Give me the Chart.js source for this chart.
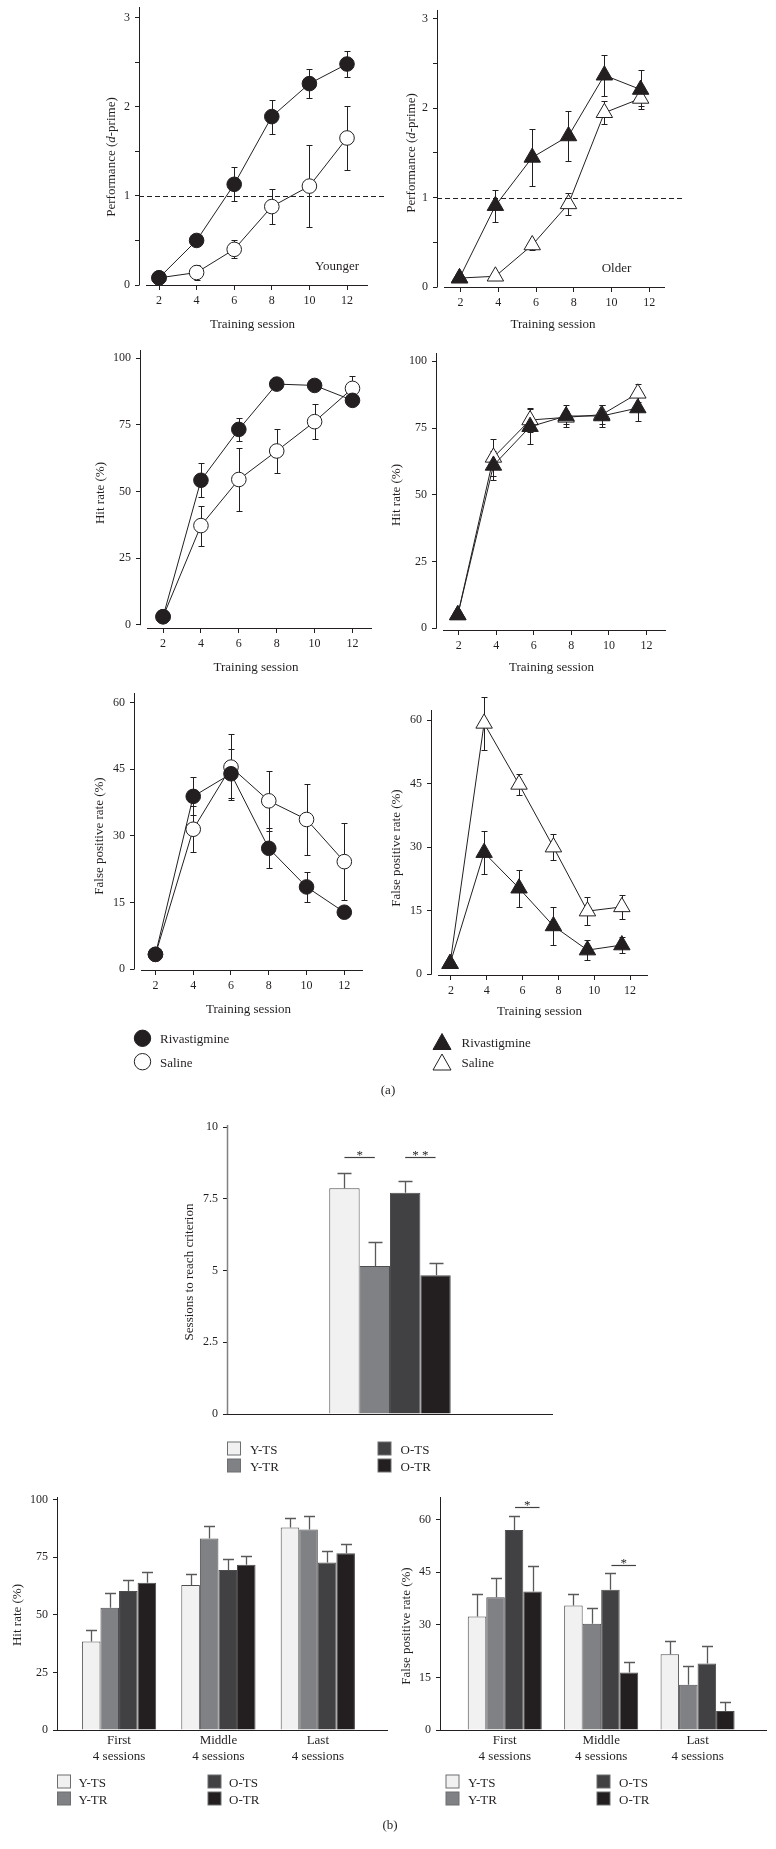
<!DOCTYPE html>
<html><head><meta charset="utf-8">
<script src="https://cdn.jsdelivr.net/npm/chart.js@4.4.1/dist/chart.umd.min.js"></script>
<style>
html,body{margin:0;padding:0;background:#fff;}
#page{position:relative;width:776px;height:1849px;overflow:hidden;background:#fff;font-family:'Liberation Serif','DejaVu Serif','Times New Roman',serif;color:#231f20;}
canvas{position:absolute;}
svg{position:absolute;left:0;top:0;}
.t{position:absolute;white-space:nowrap;font-size:13px;line-height:1;}
</style></head><body><div id="page"></div>
<script>
// ---------------- DATA ----------------
const sessions = [2, 4, 6, 8, 10, 12];
const olderSessions = [1.95, 3.85, 5.8, 7.72, 9.62, 11.54];
const sessionTicks = [2, 4, 6, 8, 10, 12];

// d-prime
const dYoungRiv = [0.08, 0.50, 1.13, 1.89, 2.26, 2.48];
const dYoungRivSem = [0, 0.03, 0.19, 0.19, 0.16, 0.15];
const dYoungSal = [0.08, 0.14, 0.40, 0.88, 1.11, 1.65];
const dYoungSalSem = [0, 0.08, 0.10, 0.20, 0.46, 0.36];
const dOldRiv = [0.10, 0.91, 1.45, 1.69, 2.37, 2.21];
const dOldRivSem = [0, 0.18, 0.32, 0.28, 0.23, 0.22];
const dOldSal = [0.10, 0.12, 0.47, 0.93, 1.95, 2.11];
const dOldSalSem = [0, 0.03, 0.06, 0.12, 0.13, 0.08];
const criterion = 1;

// hit rate (%)
const hitYoungRiv = [3, 54.2, 73.3, 90.3, 89.8, 84.2];
const hitYoungRivSem = [0, 6.4, 4.3, 0, 0, 0];
const hitYoungSal = [3, 37.2, 54.5, 65.2, 76.2, 88.7];
const hitYoungSalSem = [0, 7.5, 11.8, 8.1, 6.6, 4.7];
const hitOldRiv = [5, 61, 75.5, 79.5, 79.5, 82.5];
const hitOldRivSem = [0, 5.5, 6.5, 4.3, 4, 5];
const hitOldSal = [5, 64, 78, 79, 80, 88];
const hitOldSalSem = [0, 7, 4.4, 2.5, 3.5, 3.4];

// false positive rate (%)
const fpYoungRiv = [3.3, 38.9, 44.0, 27.2, 18.5, 12.8];
const fpYoungRivSem = [0, 4.3, 5.5, 4.5, 3.3, 0];
const fpYoungSal = [3.3, 31.5, 45.5, 37.9, 33.7, 24.2];
const fpYoungSalSem = [0, 5.2, 7.5, 6.8, 8.1, 8.6];
const fpOldRiv = [2.5, 28.7, 20.3, 11.4, 5.7, 6.9];
const fpOldRivSem = [0, 5, 4.4, 4.5, 2.4, 1.8];
const fpOldSal = [2.5, 59.2, 44.8, 30.0, 14.9, 15.9];
const fpOldSalSem = [0, 6.3, 2.4, 3.0, 3.3, 2.9];

// (b) groups
const groups = ['Y-TS', 'Y-TR', 'O-TS', 'O-TR'];
const sessionsToCriterion = [7.87, 5.16, 7.72, 4.84];
const sessionsToCriterionSem = [0.55, 0.85, 0.42, 0.42];

const blocks = [['First', '4 sessions'], ['Middle', '4 sessions'], ['Last', '4 sessions']];
const blockIndex = [1, 2, 3];
const hitYTS = [38.4, 62.9, 87.9], hitYTSSem = [5.2, 4.9, 4.2];
const hitYTR = [53.0, 83.1, 87.0], hitYTRSem = [6.5, 5.6, 5.9];
const hitOTS = [60.3, 69.4, 72.7], hitOTSSem = [5.0, 4.6, 4.8];
const hitOTR = [63.9, 71.7, 76.7], hitOTRSem = [4.5, 3.9, 4.2];
const fpYTS = [32.4, 35.5, 21.6], fpYTSSem = [6.5, 3.3, 3.9];
const fpYTR = [37.9, 30.3, 12.9], fpYTRSem = [5.5, 4.4, 5.3];
const fpOTS = [57.1, 40.0, 19.0], fpOTSSem = [4.1, 4.8, 5.1];
const fpOTR = [39.5, 16.4, 5.4], fpOTRSem = [7.2, 2.9, 2.7];

const dTicksY = [0, 1, 2, 3];
const hitTicksY = [0, 25, 50, 75, 100];
const fpTicksY = [0, 15, 30, 45, 60];
const sessTicksY = [0, 2.5, 5, 7.5, 10];

// ---------------- STYLE ----------------
const SERIF = "'Liberation Serif','DejaVu Serif','Times New Roman',serif";
const INK = '#231f20';
const barColors = ['#f1f1f2', '#808184', '#414042', '#231f20'];
const barBorder = '#4d4d4f';
const errGrey = '#58595b';
Chart.defaults.font.family = SERIF;
Chart.defaults.color = INK;

const page = document.getElementById('page');
const PADL = 70, PADT = 20, PADR = 30, PADB = 50;

// ---------------- PLUGINS ----------------
function drawErrors(chart, o) {
  if (!o || !o.sems) return;
  const ctx = chart.ctx, ys = chart.scales.y;
  ctx.save();
  ctx.strokeStyle = o.color || INK;
  ctx.lineWidth = o.width || 1;
  o.sems.forEach((sem, di) => {
    if (!sem) return;
    const meta = chart.getDatasetMeta(di);
    const data = chart.data.datasets[di].data;
    meta.data.forEach((el, i) => {
      const s = sem[i];
      if (!s) return;
      const v = (typeof data[i] === 'object') ? data[i].y : data[i];
      const x = Math.round(el.x) + 0.5;
      const yTop = Math.round(ys.getPixelForValue(v + s)) + 0.5;
      const yBot = o.upOnly ? ys.getPixelForValue(v) : Math.round(ys.getPixelForValue(v - s)) + 0.5;
      const c = (o.cap || 6) / 2;
      ctx.beginPath();
      ctx.moveTo(x, yBot); ctx.lineTo(x, yTop);
      ctx.moveTo(x - c, yTop); ctx.lineTo(x + c, yTop);
      if (!o.upOnly) { ctx.moveTo(x - c, yBot); ctx.lineTo(x + c, yBot); }
      ctx.stroke();
    });
  });
  ctx.restore();
}
const errorBars = {
  id: 'errorBars',
  beforeDatasetsDraw(chart, args, o) { if (o && o.layer === 'before') drawErrors(chart, o); },
  afterDatasetsDraw(chart, args, o) { if (o && o.layer === 'after') drawErrors(chart, o); }
};
const axisLines = {
  id: 'axisLines',
  afterDraw(chart, args, o) {
    if (!o || !o.on) return;
    const {ctx, chartArea: a, scales} = chart;
    ctx.save();
    ctx.lineWidth = o.yWidth || 1;
    ctx.strokeStyle = o.yColor || INK;
    const yb = scales.y.getPixelForValue(o.yEnd || 0);
    const xl = Math.round(a.left) + 0.5;
    ctx.beginPath(); ctx.moveTo(xl, a.top); ctx.lineTo(xl, yb + 0.5); ctx.stroke();
    ctx.lineWidth = 1;
    ctx.strokeStyle = o.xColor || INK;
    const yl = Math.round(a.bottom) + 0.5;
    ctx.beginPath(); ctx.moveTo(a.left + (o.xGap || 0), yl); ctx.lineTo(a.right, yl); ctx.stroke();
    ctx.restore();
  }
};
const refLine = {
  id: 'refLine',
  afterDatasetsDraw(chart, args, o) {
    if (!o || o.value === undefined) return;
    const {ctx, chartArea: a, scales} = chart;
    const y = Math.round(scales.y.getPixelForValue(o.value)) + 0.5;
    ctx.save();
    ctx.strokeStyle = INK; ctx.lineWidth = 1; ctx.setLineDash([5, 3]);
    ctx.beginPath(); ctx.moveTo(a.left, y); ctx.lineTo(a.right + (o.extend || 0), y); ctx.stroke();
    ctx.restore();
  }
};
const sigMarks = {
  id: 'sigMarks',
  afterDraw(chart, args, o) {
    if (!o || !o.items) return;
    const ctx = chart.ctx, ys = chart.scales.y;
    ctx.save();
    ctx.strokeStyle = '#414042'; ctx.fillStyle = INK; ctx.lineWidth = 1.2;
    ctx.font = '13px ' + SERIF; ctx.textAlign = 'center'; ctx.textBaseline = 'alphabetic';
    o.items.forEach(it => {
      const ea = chart.getDatasetMeta(it.a).data[it.i];
      const eb = chart.getDatasetMeta(it.b).data[it.i];
      const x1 = ea.x + (it.offA || 0), x2 = eb.x + (it.offB || 0);
      const y = Math.round(ys.getPixelForValue(it.y)) + 0.5;
      ctx.beginPath(); ctx.moveTo(x1, y); ctx.lineTo(x2, y); ctx.stroke();
      ctx.fillText(it.text, (x1 + x2) / 2, y + 1);
    });
    ctx.restore();
  }
};
Chart.register(errorBars, axisLines, refLine, sigMarks);

// ---------------- HELPERS ----------------
function makeCanvas(g) {
  const L = Math.round(g.L), T = Math.round(g.T), R = Math.round(g.R), B = Math.round(g.B);
  const c = document.createElement('canvas');
  const w = R - L + PADL + PADR, h = B - T + PADT + PADB;
  c.width = w; c.height = h;
  c.style.left = (L - PADL) + 'px'; c.style.top = (T - PADT) + 'px';
  c.style.width = w + 'px'; c.style.height = h + 'px';
  page.appendChild(c);
  return c;
}
function yScale(min, max, step, labels) {
  return {
    type: 'linear', min, max,
    afterFit: s => { s.width = PADL; },
    border: {display: false},
    grid: {drawOnChartArea: false, drawTicks: true, tickLength: 4, color: INK, lineWidth: 1},
    ticks: {stepSize: step, includeBounds: false, padding: 5, autoSkip: false,
      font: {size: 12}, color: INK,
      callback: v => (labels.indexOf(v) >= 0 ? String(v) : '')}
  };
}
function baseOpts(scales, plugins) {
  return {
    responsive: false, animation: false, devicePixelRatio: 1, events: [],
    layout: {padding: {left: 0, top: PADT, right: PADR, bottom: 0}},
    plugins: Object.assign({legend: {display: false}, tooltip: {enabled: false}}, plugins),
    scales
  };
}
function lineDs(xs, ys, shape, filled) {
  return {
    data: xs.map((x, i) => ({x, y: ys[i]})),
    borderColor: INK, borderWidth: 1, tension: 0, fill: false, clip: false,
    pointStyle: shape, pointRadius: shape === 'triangle' ? 9.5 : 7.3,
    pointBackgroundColor: filled ? INK : '#ffffff', pointBorderColor: INK, pointBorderWidth: 1
  };
}
function lineChart(g, xs, riv, rivSem, sal, salSem, shape, yCfg, ref) {
  const plugins = {
    errorBars: {layer: 'before', sems: [rivSem, salSem], cap: 6, width: 1, color: INK},
    axisLines: {on: true, xGap: 7, yEnd: 0}
  };
  if (ref !== undefined) plugins.refLine = {value: ref, extend: 19};
  new Chart(makeCanvas(g), {
    type: 'line',
    data: {datasets: [lineDs(xs, riv, shape, true), lineDs(xs, sal, shape, false)]},
    options: baseOpts({
      x: {type: 'linear', min: g.xmin, max: g.xmax, offset: false,
        afterFit: s => { s.height = PADB; },
        border: {display: false},
        grid: {drawOnChartArea: false, drawTicks: true, tickLength: 5, color: INK, offset: false},
        ticks: {stepSize: 2, includeBounds: false, padding: 4, autoSkip: false, maxRotation: 0,
          font: {size: 12}, color: INK,
          callback: v => (sessionTicks.indexOf(v) >= 0 ? String(v) : '')}},
      y: yScale(yCfg[0], yCfg[1], yCfg[2], yCfg[3])
    }, plugins)
  });
}
function blockBarChart(g, vals, sems, yCfg, sig) {
  const datasets = groups.map((name, k) => ({
    label: name,
    data: blockIndex.map((x, i) => ({x, y: vals[k][i]})),
    backgroundColor: barColors[k], borderColor: barBorder, borderWidth: 1,
    categoryPercentage: g.cat, barPercentage: 1
  }));
  const plugins = {
    errorBars: {layer: 'after', sems, cap: 11, width: 1.3, color: errGrey, upOnly: true},
    axisLines: {on: true, xGap: 0, yEnd: 0}
  };
  if (sig) plugins.sigMarks = {items: sig};
  new Chart(makeCanvas(g), {
    type: 'bar',
    data: {datasets},
    options: baseOpts({
      x: {type: 'linear', min: g.xmin, max: g.xmax, offset: false,
        afterFit: s => { s.height = PADB; },
        border: {display: false},
        grid: {display: false, drawTicks: false, offset: false},
        ticks: {stepSize: 1, includeBounds: false, padding: 3, autoSkip: false, maxRotation: 0,
          font: {size: 13}, color: INK,
          callback: v => (blockIndex.indexOf(v) >= 0 ? blocks[v - 1] : '')}},
      y: yScale(yCfg[0], yCfg[1], yCfg[2], yCfg[3])
    }, plugins)
  });
}

// ---------------- CHARTS (a) ----------------
lineChart({L: 139, T: 7, R: 368, B: 285, xmin: 0.936, xmax: 13.117},
  sessions, dYoungRiv, dYoungRivSem, dYoungSal, dYoungSalSem, 'circle', [0, 3.12, 0.5, dTicksY], criterion);
lineChart({L: 437, T: 10, R: 665, B: 287, xmin: 0.757, xmax: 12.83},
  olderSessions, dOldRiv, dOldRivSem, dOldSal, dOldSalSem, 'triangle', [0, 3.1, 0.5, dTicksY], criterion);
lineChart({L: 140, T: 350, R: 372, B: 628, xmin: 0.783, xmax: 13.03},
  sessions, hitYoungRiv, hitYoungRivSem, hitYoungSal, hitYoungSalSem, 'circle', [-1.24, 103.1, 25, hitTicksY]);
lineChart({L: 436, T: 353, R: 666, B: 630, xmin: 0.79, xmax: 13.04},
  olderSessions, hitOldRiv, hitOldRivSem, hitOldSal, hitOldSalSem, 'triangle', [-0.64, 103.1, 25, hitTicksY]);
lineChart({L: 134, T: 693, R: 363, B: 970, xmin: 0.864, xmax: 12.99},
  sessions, fpYoungRiv, fpYoungRivSem, fpYoungSal, fpYoungSalSem, 'circle', [-0.22, 62.2, 15, fpTicksY]);
lineChart({L: 431, T: 710, R: 648, B: 975, xmin: 0.885, xmax: 13.0},
  olderSessions, fpOldRiv, fpOldRivSem, fpOldSal, fpOldSalSem, 'triangle', [-0.17, 62.36, 15, fpTicksY]);

// ---------------- CHARTS (b) ----------------
new Chart(makeCanvas({L: 227, T: 1125, R: 553, B: 1414}), {
  type: 'bar',
  data: {labels: [''], datasets: groups.map((name, k) => ({
    label: name, data: [sessionsToCriterion[k]],
    backgroundColor: barColors[k], borderColor: barBorder, borderWidth: 1,
    categoryPercentage: 0.3726, barPercentage: 1
  }))},
  options: baseOpts({
    x: {type: 'category', afterFit: s => { s.height = PADB; }, border: {display: false},
      grid: {display: false, drawTicks: false}, ticks: {display: false}},
    y: yScale(0, 10.08, 2.5, sessTicksY)
  }, {
    errorBars: {layer: 'after', sems: sessionsToCriterionSem.map(v => [v]), cap: 14, width: 1.3, color: errGrey, upOnly: true},
    axisLines: {on: true, xGap: 0, yEnd: 0, yColor: '#808184', yWidth: 1.5},
    sigMarks: {items: [
      {a: 0, b: 1, i: 0, y: 8.96, text: '*'},
      {a: 2, b: 3, i: 0, y: 8.96, text: '* *'}
    ]}
  })
});

blockBarChart({L: 57, T: 1497, R: 388, B: 1730, xmin: 0.376, xmax: 3.706, cat: 0.747},
  [hitYTS, hitYTR, hitOTS, hitOTR], [hitYTSSem, hitYTRSem, hitOTSSem, hitOTRSem],
  [0, 101.1, 25, hitTicksY]);
blockBarChart({L: 440, T: 1497, R: 767, B: 1730, xmin: 0.328, xmax: 3.72, cat: 0.768},
  [fpYTS, fpYTR, fpOTS, fpOTR], [fpYTSSem, fpYTRSem, fpOTSSem, fpOTRSem],
  [0, 66.5, 15, fpTicksY],
  [{a: 2, b: 3, i: 0, y: 63.7, text: '*', offA: 1, offB: 7},
   {a: 2, b: 3, i: 1, y: 47.1, text: '*', offA: 1, offB: 7}]);

// ---------------- LEGEND SYMBOLS ----------------
const svgNS = 'http://www.w3.org/2000/svg';
const svg = document.createElementNS(svgNS, 'svg');
svg.setAttribute('width', 776); svg.setAttribute('height', 1849);
page.appendChild(svg);
function el(tag, attrs) {
  const e = document.createElementNS(svgNS, tag);
  for (const k in attrs) e.setAttribute(k, attrs[k]);
  svg.appendChild(e);
}
function circle(cx, cy, r, fill) { el('circle', {cx, cy, r, fill, stroke: INK, 'stroke-width': 1}); }
function tri(cx, cy, w, h, fill) {
  el('polygon', {points: `${cx},${cy - h / 2} ${cx + w / 2},${cy + h / 2} ${cx - w / 2},${cy + h / 2}`, fill, stroke: INK, 'stroke-width': 1});
}
function square(x, y, k) { el('rect', {x: x + 0.5, y: y + 0.5, width: 13, height: 13, fill: barColors[k], stroke: '#6d6e71', 'stroke-width': 1}); }

circle(142.5, 1038.3, 8.2, INK);
circle(142.5, 1061.7, 8.2, '#ffffff');
tri(442, 1041.5, 18, 16, INK);
tri(442, 1062, 18, 16, '#ffffff');

function barLegend(x0, x1, y0, y1, tdx) {
  square(x0, y0, 0); square(x0, y1, 1); square(x1, y0, 2); square(x1, y1, 3);
  const cy0 = y0 + 7, cy1 = y1 + 7;
  text(groups[0], x0 + tdx, cy0, {align: 'left'});
  text(groups[1], x0 + tdx, cy1, {align: 'left'});
  text(groups[2], x1 + tdx, cy0, {align: 'left'});
  text(groups[3], x1 + tdx, cy1, {align: 'left'});
}

// ---------------- TEXT ----------------
function text(html, x, y, opt) {
  opt = opt || {};
  const d = document.createElement('div');
  d.className = 't'; d.innerHTML = html;
  d.style.left = x + 'px'; d.style.top = y + 'px';
  d.style.fontSize = (opt.size || 13) + 'px';
  let tf = opt.align === 'left' ? 'translate(0,-50%)' : 'translate(-50%,-50%)';
  if (opt.rot) tf = 'translate(-50%,-50%) rotate(-90deg)';
  d.style.transform = tf;
  page.appendChild(d);
}

const perf = 'Performance (<i>d</i>-prime)';
text(perf, 110, 157, {rot: true});
text(perf, 410, 153, {rot: true});
text('Hit rate (%)', 98.5, 493, {rot: true});
text('Hit rate (%)', 395, 495, {rot: true});
text('False positive rate (%)', 98, 836, {rot: true});
text('False positive rate (%)', 395, 848, {rot: true});
text('Sessions to reach criterion', 187.5, 1272, {rot: true});
text('Hit rate (%)', 15.5, 1615, {rot: true});
text('False positive rate (%)', 405, 1626, {rot: true});

text('Training session', 252.5, 323);
text('Training session', 553, 323);
text('Training session', 256, 666);
text('Training session', 551.5, 666);
text('Training session', 248.5, 1007.5);
text('Training session', 539.5, 1010);

text('Younger', 337, 265);
text('Older', 616.5, 266.5);

text('Rivastigmine', 160, 1038, {align: 'left'});
text('Saline', 160, 1061.5, {align: 'left'});
text('Rivastigmine', 461.5, 1041.5, {align: 'left'});
text('Saline', 461.5, 1061.5, {align: 'left'});
text('(a)', 388, 1088.5);

barLegend(227, 377.5, 1441.5, 1458.5, 23);
barLegend(57, 207.5, 1774.5, 1791.5, 21.5);
barLegend(445.5, 596.5, 1774.5, 1791.5, 22.5);
text('(b)', 390, 1823.5);
</script></body></html>
